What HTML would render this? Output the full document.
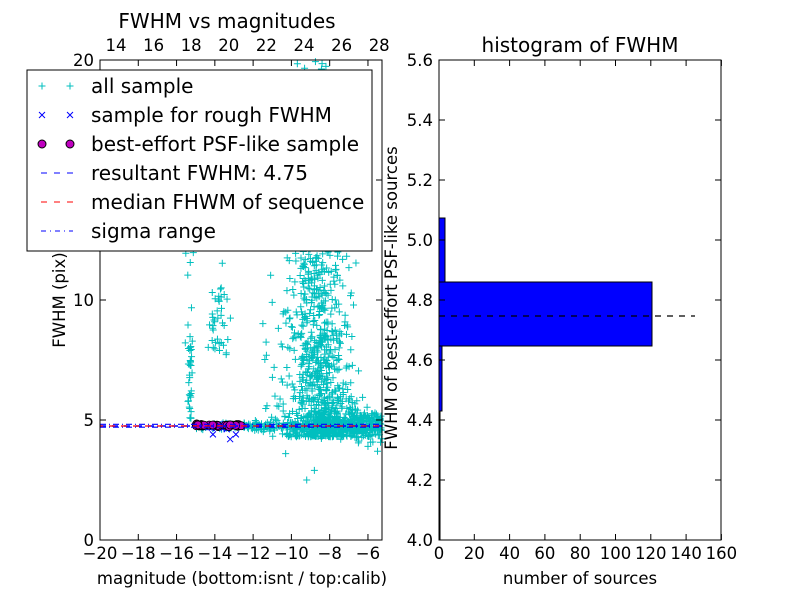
<!DOCTYPE html>
<html><head><meta charset="utf-8"><style>
body{margin:0;background:#fff;}
svg text{font-family:"DejaVu Sans","Liberation Sans",sans-serif;fill:#000;}
</style></head><body>
<svg id="s" width="800" height="600" xmlns="http://www.w3.org/2000/svg">
<rect width="800" height="600" fill="#fff"/>
<g id="pts"></g>
<g id="axes" font-size="16.5"></g>
</svg>
<script>
var NS="http://www.w3.org/2000/svg";
var pts=document.getElementById('pts'),ax=document.getElementById('axes');
function el(p,t,a,txt){var e=document.createElementNS(NS,t);for(var k in a)e.setAttribute(k,a[k]);if(txt!==undefined)e.textContent=txt;p.appendChild(e);return e;}
var seed=7;function r(){seed=(seed*16807)%2147483647;return seed/2147483647;}
function g(){return (r()+r()+r()+r()-2)*0.87;}
var X0=100,X1=382,Y0=540,Y1=60;
function mx(m){return 100+(m+20)*19.14;}
function fy(f){return 540-f*24;}
var d="";
function plus(x,y){if(x<X0||x>X1||y<Y1||y>Y0)return;d+="M"+(x-3.5)+" "+y+"h7M"+x+" "+(y-3.5)+"v7";}
// horizontal band
for(var i=0;i<350;i++){var m=-15+r()*10;plus(mx(m),fy(4.75+g()*0.1*(1+(m+15)/4)));}
// streaks
for(var i=0;i<30;i++)plus(mx(-15.3+g()*0.15),fy(5+r()*3.2));
for(var i=0;i<10;i++)plus(mx(-15.3+g()*0.3),fy(7.5+r()*5));
for(var i=0;i<25;i++)plus(mx(-13.7+g()*0.4),fy(7.5+r()*3));
for(var i=0;i<20;i++)plus(mx(-13.9+g()*0.7),fy(8+r()*8));
// main cluster
for(var i=0;i<700;i++){var f=4.3+Math.pow(r(),1.8)*8;var m=-8.6+g()*(f<6?2.0:1.5);plus(mx(m),fy(f));}
for(var i=0;i<250;i++){plus(mx(-8.7+r()*3.4),fy(4.3+g()*0.3+r()*1.0));}
for(var i=0;i<60;i++){plus(mx(-11.5+r()*5),fy(5+r()*5));}
for(var i=0;i<60;i++){plus(mx(-9.3+g()*1.8),fy(10+r()*10));}
plus(mx(-9.2),fy(2.5));plus(mx(-8.8),fy(2.9));plus(mx(-10.3),fy(3.6));plus(mx(-6),fy(3.9));plus(mx(-5.5),fy(3.7));
el(pts,'path',{d:d,stroke:'#00bfbf','stroke-width':1,fill:'none'});
// x markers
var dx="";for(var i=0;i<40;i++){var x=mx(-15+r()*2.5),y=fy(4.75+g()*0.1);dx+="M"+(x-3)+" "+(y-3)+"l6 6M"+(x+3)+" "+(y-3)+"l-6 6";}
[[-14.1,4.4],[-13.2,4.2],[-12.9,4.4]].forEach(function(p){var x=mx(p[0]),y=fy(p[1]);dx+="M"+(x-3)+" "+(y-3)+"l6 6M"+(x+3)+" "+(y-3)+"l-6 6";});
el(pts,'path',{d:dx,stroke:'#0000ff','stroke-width':1,fill:'none'});
for(var i=0;i<40;i++)el(pts,'circle',{cx:mx(-15+r()*2.4),cy:fy(4.78+g()*0.05),r:4,fill:'#bf00bf',stroke:'#000','stroke-width':0.8});
// lines
el(pts,'line',{x1:X0,x2:X1,y1:fy(4.75),y2:fy(4.75),stroke:'#0000ff','stroke-dasharray':'6,6','stroke-width':1.5});
el(pts,'line',{x1:X0,x2:X1,y1:fy(4.75),y2:fy(4.75),stroke:'#ff0000','stroke-dasharray':'6,6','stroke-dashoffset':3,'stroke-width':1.2});
el(pts,'line',{x1:X0,x2:X1,y1:fy(4.7),y2:fy(4.7),stroke:'#0000ff','stroke-dasharray':'6,3,1,3','stroke-width':1.2});
el(pts,'line',{x1:X0,x2:X1,y1:fy(4.82),y2:fy(4.82),stroke:'#0000ff','stroke-dasharray':'6,3,1,3','stroke-width':1.2});
// left axes frame
el(ax,'rect',{x:X0,y:Y1,width:X1-X0,height:Y0-Y1,fill:'none',stroke:'#000','stroke-width':1});
for(var v=-20;v<=-6;v+=2){var x=mx(v);el(ax,'line',{x1:x,x2:x,y1:540,y2:534,stroke:'#000'});el(ax,'line',{x1:x,x2:x,y1:60,y2:66,stroke:'#000'});el(ax,'text',{x:x,y:559,'text-anchor':'middle'},'\u2212'+(-v));}
for(var v=14;v<=28;v+=2){var x=116+(v-14)*18.8;el(ax,'text',{x:x,y:51,'text-anchor':'middle'},v);}
[0,5,10,15,20].forEach(function(v){var y=fy(v);el(ax,'line',{x1:100,x2:106,y1:y,y2:y,stroke:'#000'});el(ax,'line',{x1:376,x2:382,y1:y,y2:y,stroke:'#000'});el(ax,'text',{x:94,y:y+6,'text-anchor':'end'},v);});
el(ax,'text',{x:242,y:584,'text-anchor':'middle'},'magnitude (bottom:isnt / top:calib)');
el(ax,'text',{x:227,y:28,'text-anchor':'middle','font-size':20},'FWHM vs magnitudes');
el(ax,'text',{x:65,y:300,'text-anchor':'middle',transform:'rotate(-90 65 300)'},'FWHM (pix)');
// legend
el(ax,'rect',{x:27,y:70,width:345,height:181,fill:'#fff',stroke:'#000'});
var ly=[86,115,144,173,202,231],lt=['all sample','sample for rough FWHM','best-effort PSF-like sample','resultant FWHM: 4.75','median FHWM of sequence','sigma range'];
ly.forEach(function(y,i){el(ax,'text',{x:91,y:y+7,'font-size':20},lt[i]);});
[42,70].forEach(function(x){var y=86;el(ax,'path',{d:"M"+(x-3.5)+" "+y+"h7M"+x+" "+(y-3.5)+"v7",stroke:'#00bfbf',fill:'none'});y=115;el(ax,'path',{d:"M"+(x-3)+" "+(y-3)+"l6 6M"+(x+3)+" "+(y-3)+"l-6 6",stroke:'#0000ff',fill:'none'});el(ax,'circle',{cx:x,cy:144,r:4,fill:'#bf00bf',stroke:'#000'});});
el(ax,'line',{x1:41,x2:73,y1:173,y2:173,stroke:'#0000ff','stroke-dasharray':'6,7'});
el(ax,'line',{x1:41,x2:73,y1:202,y2:202,stroke:'#ff0000','stroke-dasharray':'6,7'});
el(ax,'line',{x1:41,x2:73,y1:231,y2:231,stroke:'#0000ff','stroke-dasharray':'5,4,1,4'});
// right axes
function hy(v){return 540-(v-4)*300;}function hx(n){return 439+n*1.765;}
el(ax,'rect',{x:439,y:218,width:6,height:64,fill:'#0000ff',stroke:'#000'});
el(ax,'rect',{x:439,y:282,width:213,height:64,fill:'#0000ff',stroke:'#000'});
el(ax,'rect',{x:439,y:346,width:3,height:65,fill:'#0000ff',stroke:'#000'});
el(ax,'rect',{x:439,y:411,width:1,height:129,fill:'#0000ff',stroke:'#000'});
el(ax,'line',{x1:439,x2:695,y1:316,y2:316,stroke:'#000','stroke-dasharray':'6,6','stroke-width':1.3});
el(ax,'rect',{x:439,y:60,width:282,height:480,fill:'none',stroke:'#000'});
for(var v=0;v<=160;v+=20){var x=hx(v);el(ax,'line',{x1:x,x2:x,y1:540,y2:534,stroke:'#000'});el(ax,'line',{x1:x,x2:x,y1:60,y2:66,stroke:'#000'});el(ax,'text',{x:x,y:559,'text-anchor':'middle'},v);}
for(var i=0;i<=8;i++){var v=4+i*0.2,y=hy(v);el(ax,'line',{x1:439,x2:445,y1:y,y2:y,stroke:'#000'});el(ax,'line',{x1:715,x2:721,y1:y,y2:y,stroke:'#000'});el(ax,'text',{x:433,y:y+6,'text-anchor':'end'},v.toFixed(1));}
el(ax,'text',{x:580,y:584,'text-anchor':'middle'},'number of sources');
el(ax,'text',{x:580,y:52,'text-anchor':'middle','font-size':20},'histogram of FWHM');
el(ax,'text',{x:397,y:298,'text-anchor':'middle',transform:'rotate(-90 397 298)'},'FWHM of best-effort PSF-like sources');
</script>
</body></html>
